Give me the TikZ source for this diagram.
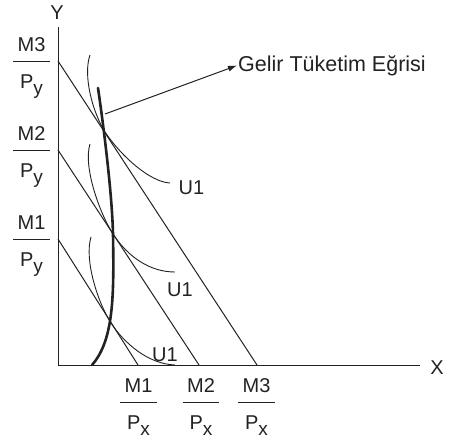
\documentclass[tikz,border=0pt]{standalone}
\usepackage{fontspec}
\setmainfont{Liberation Sans}
\usetikzlibrary{arrows.meta,positioning}
\definecolor{ink}{HTML}{222222}
\newcommand{\incfrac}[2]{\setlength{\arrayrulewidth}{1pt}\begin{tabular}{@{\hspace{4.5pt}}c@{\hspace{4.5pt}}}#1\\[3pt]\hline\rule{0pt}{26pt}P\raisebox{-6pt}{\fontsize{19}{19}\selectfont #2}\end{tabular}}

\begin{document}
\begin{tikzpicture}[
  x=1pt, y=-1pt, >={Latex[length=9pt,width=6pt]},
  every node/.style={font=\fontsize{20}{22}\selectfont, text=ink},
  ax/.style={draw=ink, line width=1pt},
  bud/.style={draw=ink, line width=1pt},
  ind/.style={draw=ink, line width=0.9pt},
  icc/.style={draw=ink, line width=2.6pt, line cap=round},
  frc/.style={anchor=north, inner sep=0pt},
  lab/.style={inner sep=1pt}
]
\useasboundingbox (0,0) rectangle (454,440);
% axes
\coordinate (o) at (58,365);
\coordinate (ytop) at (58,27);
\coordinate (xend) at (420,365);
\node[lab] (ylab) at (57,12.5) {Y};
\node[lab] (xlab) at (437,367.5) {X};
\draw[ax] (ytop) -- (o) -- (xend);
% budget lines
\coordinate (b3y) at (58,61);  \coordinate (b3x) at (257,365);
\coordinate (b2y) at (58,150); \coordinate (b2x) at (199,365);
\coordinate (b1y) at (58,239); \coordinate (b1x) at (138,365);
\draw[bud] (b3y) -- (b3x);
\draw[bud] (b2y) -- (b2x);
\draw[bud] (b1y) -- (b1x);
\node[frc] (m3y) at (31.5,36) {\incfrac{M3}{y}};
\node[frc] (m2y) at (31.5,125) {\incfrac{M2}{y}};
\node[frc] (m1y) at (31.5,214) {\incfrac{M1}{y}};
\node[frc] (m1x) at (138.5,377) {\incfrac{M1}{x}};
\node[frc] (m2x) at (201,377) {\incfrac{M2}{x}};
\node[frc] (m3x) at (256.5,377) {\incfrac{M3}{x}};
% indifference curves
\coordinate (t3) at (105,132);
\coordinate (t2) at (113,234);
\coordinate (t1) at (111,323);
\coordinate (u3s) at (90,55);  \coordinate (u3e) at (170,183);
\coordinate (u2s) at (90,144); \coordinate (u2e) at (175,272);
\coordinate (u1s) at (91,237); \coordinate (u1e) at (175,365);
\draw[ind] (u3s) .. controls (83,75) and (92,111) .. (t3) .. controls (121,156) and (150,182) .. (u3e);
\draw[ind] (u2s) .. controls (83,166) and (99,212) .. (t2) .. controls (128,257) and (150,272) .. (u2e);
\draw[ind] (u1s) .. controls (84,260) and (98,303) .. (t1) .. controls (124,343) and (148,364) .. (u1e);
\node[lab] (u3) at (191.5,187.5) {U1};
\node[lab] (u2) at (180,289.5) {U1};
\node[lab] (u1) at (165,354.5) {U1};
% income consumption curve
\coordinate (ctop) at (98,88);
\coordinate (cbot) at (92,365);
\draw[icc] (ctop) .. controls (102,115) and (112,190) .. (t2) .. controls (114,295) and (114,340) .. (cbot);
\coordinate (arr) at (105,114);
\node[lab, anchor=west, font=\fontsize{21.5}{24}\selectfont] (gte) at (237,65.5) {Gelir Tüketim Eğrisi};
\draw[->, draw=ink, line width=1pt] (arr) -- (gte.west);
\end{tikzpicture}
\end{document}
